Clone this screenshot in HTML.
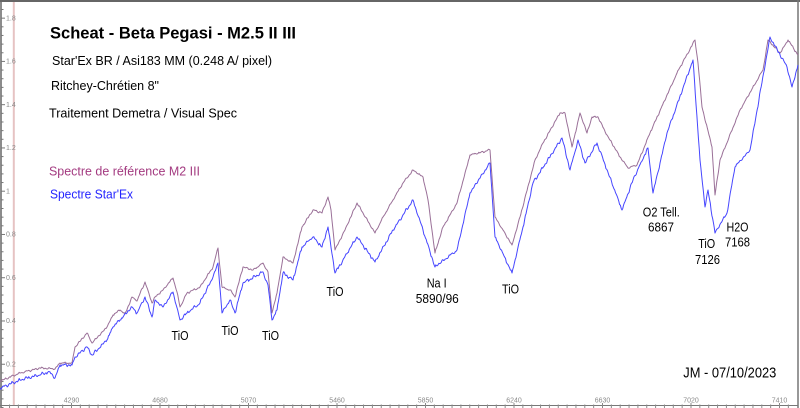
<!DOCTYPE html>
<html>
<head>
<meta charset="utf-8">
<style>
html,body{margin:0;padding:0;background:#fff;}
svg{display:block;}
text{font-family:"Liberation Sans",sans-serif;}
</style>
</head>
<body>
<svg id="c" width="800" height="408" viewBox="0 0 800 408" xmlns="http://www.w3.org/2000/svg">
<rect x="0" y="0" width="800" height="408" fill="#fff"/>
<!-- frame -->
<line x1="0" y1="1" x2="800" y2="1" stroke="#666" stroke-width="2"/>
<line x1="798" y1="0" x2="798" y2="408" stroke="#777" stroke-width="1.5"/>
<line x1="1" y1="0" x2="1" y2="408" stroke="#666" stroke-width="1.5"/>
<line x1="0" y1="405.5" x2="798" y2="405.5" stroke="#777" stroke-width="1"/>
<!-- pink marker line -->
<line x1="13.8" y1="2" x2="13.8" y2="405" stroke="#e6c3c3" stroke-width="2"/>
<g id="yticks" stroke="#777" stroke-width="1"></g>
<g id="xticks" stroke="#888" stroke-width="1"></g>
<g font-size="7" fill="#8a8a8a">
<text x="6" y="20.5">1.8</text>
<text x="6" y="63.7">1.6</text>
<text x="6" y="107">1.4</text>
<text x="6" y="150.2">1.2</text>
<text x="6" y="193.5">1</text>
<text x="6" y="236.7">0.8</text>
<text x="6" y="280">0.6</text>
<text x="6" y="323.2">0.4</text>
<text x="6" y="366.5">0.2</text>
</g>
<g font-size="7" fill="#8a8a8a" text-anchor="middle">
<text x="71.5" y="402.7">4290</text>
<text x="160" y="402.7">4680</text>
<text x="248.5" y="402.7">5070</text>
<text x="337" y="402.7">5460</text>
<text x="425.5" y="402.7">5850</text>
<text x="514" y="402.7">6240</text>
<text x="602.5" y="402.7">6630</text>
<text x="691" y="402.7">7020</text>
<text x="779.5" y="402.7">7410</text>
</g>
<polyline id="purple" fill="none" stroke="#9a7098" stroke-width="1" stroke-linejoin="round" points="0,381 20,373 40,368 55,369 60,363 72,363 75,347 87,333 92,343 107,327 113,315 120,310 125,314 132,297 137,301 145,282 152,303 155,297 163,290 173,278 177,292 180,307 187,293 200,287 213,267 218,248 222,287 230,290 235,297 243,267 253,270 263,263 268,272 272,313 277,293 283,257 293,263 302,227 313,210 322,213 328,197 331,210 335,250 345,230 357,203 363,213 375,233 383,217 393,200 403,183 413,170 423,177 428,200 435,253 443,227 457,203 470,155 490,150 495,217 512,245 520,217 535,160 543,143 560,113 565,113 572,147 580,113 587,133 592,117 598,117 607,135 620,157 628,168 637,165 650,133 677,73 695,40 698,63 702,107 712,147 715,195 720,160 740,110 763,70 768,40 780,53 788,40 798,55"/>
<polyline id="blue" fill="none" stroke="#4646ff" stroke-width="1" stroke-linejoin="round" points="0,388 20,380 50,372 55,378 60,365 72,365 75,357 87,347 92,355 107,340 113,327 120,320 132,307 137,313 145,297 152,317 155,300 163,307 173,292 180,320 187,313 200,303 213,277 218,263 222,313 230,300 235,313 243,283 263,272 268,285 272,320 277,310 283,273 293,280 302,247 313,237 322,247 328,227 335,273 357,237 375,262 393,230 413,200 423,230 435,267 457,250 470,193 490,163 495,237 512,273 523,227 533,183 562,138 570,170 578,140 585,163 597,143 622,210 633,180 648,148 653,193 667,133 693,60 700,160 705,207 708,190 715,233 727,213 735,167 750,150 770,37 787,67 792,87 798,65"/>
<!-- texts -->
<text x="50" y="38.3" font-size="17" font-weight="bold" fill="#000" textLength="246" lengthAdjust="spacingAndGlyphs">Scheat - Beta Pegasi - M2.5 II III</text>
<text x="52" y="65" font-size="12.5" fill="#000" textLength="220" lengthAdjust="spacingAndGlyphs">Star'Ex BR / Asi183 MM (0.248 A/ pixel)</text>
<text x="51" y="90" font-size="12.5" fill="#000" textLength="108" lengthAdjust="spacingAndGlyphs">Ritchey-Chrétien 8"</text>
<text x="49" y="117.3" font-size="12.5" fill="#000" textLength="188" lengthAdjust="spacingAndGlyphs">Traitement Demetra / Visual Spec</text>
<text x="49" y="175.5" font-size="12.5" fill="#a33a80" textLength="151" lengthAdjust="spacingAndGlyphs">Spectre de référence M2 III</text>
<text x="50" y="198.5" font-size="12.5" fill="#2424ff" textLength="83" lengthAdjust="spacingAndGlyphs">Spectre Star'Ex</text>
<g font-size="12.5" fill="#000" text-anchor="middle">
<text x="180" y="340" textLength="17" lengthAdjust="spacingAndGlyphs">TiO</text>
<text x="230" y="335" textLength="17" lengthAdjust="spacingAndGlyphs">TiO</text>
<text x="270.5" y="340" textLength="17" lengthAdjust="spacingAndGlyphs">TiO</text>
<text x="335" y="296" textLength="17" lengthAdjust="spacingAndGlyphs">TiO</text>
<text x="436.7" y="287.5" textLength="20" lengthAdjust="spacingAndGlyphs">Na I</text>
<text x="437.3" y="303" textLength="43" lengthAdjust="spacingAndGlyphs">5890/96</text>
<text x="510.5" y="293.5" textLength="17" lengthAdjust="spacingAndGlyphs">TiO</text>
<text x="661.3" y="216.5" textLength="37" lengthAdjust="spacingAndGlyphs">O2 Tell.</text>
<text x="661" y="231.5" textLength="26" lengthAdjust="spacingAndGlyphs">6867</text>
<text x="706.7" y="248" textLength="17" lengthAdjust="spacingAndGlyphs">TiO</text>
<text x="707.5" y="264" textLength="25" lengthAdjust="spacingAndGlyphs">7126</text>
<text x="737.5" y="231.5" textLength="22" lengthAdjust="spacingAndGlyphs">H2O</text>
<text x="737.5" y="246.5" textLength="25" lengthAdjust="spacingAndGlyphs">7168</text>
</g>
<text x="683.3" y="377.5" font-size="14.5" fill="#000" textLength="93" lengthAdjust="spacingAndGlyphs">JM - 07/10/2023</text>
</svg>
<script>
(function(){
  var NS="http://www.w3.org/2000/svg";
  // y ticks
  var yt=document.getElementById('yticks');
  for(var i=0;i<=47;i++){
    var v=i*0.04; var y=407.5-v*216.3;
    if(y<2) break;
    var major=(i%5===0)&&i>0;
    var l=document.createElementNS(NS,'line');
    l.setAttribute('x1',1);l.setAttribute('x2',major?5:3.5);
    l.setAttribute('y1',y);l.setAttribute('y2',y);
    yt.appendChild(l);
  }
  var xt=document.getElementById('xticks');
  for(var k=-8;k<=90;k++){
    var x=71.5+k*8.85;
    if(x<1||x>797) continue;
    var l2=document.createElementNS(NS,'line');
    var mj=(k%10===0);
    l2.setAttribute('x1',x);l2.setAttribute('x2',x);
    l2.setAttribute('y1',mj?403:404.5);l2.setAttribute('y2',408);
    xt.appendChild(l2);
  }
  // densify curves with small wiggles
  var seed=12345;
  function rnd(){seed=(seed*1103515245+12345)%2147483648;return seed/2147483648;}
  function densify(id,amp){
    var el=document.getElementById(id);
    var pts=el.getAttribute('points').trim().split(/\s+/).map(function(p){var a=p.split(',');return [parseFloat(a[0]),parseFloat(a[1])];});
    var out=[];
    for(var i=0;i<pts.length-1;i++){
      var a=pts[i],b=pts[i+1];
      var n=Math.max(1,Math.round((b[0]-a[0])/0.8));
      for(var j=0;j<n;j++){
        var t=j/n;
        var x=a[0]+(b[0]-a[0])*t;
        var y=a[1]+(b[1]-a[1])*t;
        var w=(j===0)?0:amp*(Math.sin(x*1.9)*0.5+Math.sin(x*0.83+1.3)*0.5+(rnd()-0.5)*0.9);
        out.push(x.toFixed(2)+','+(y+w).toFixed(2));
      }
    }
    var last=pts[pts.length-1];
    out.push(last[0]+','+last[1]);
    el.setAttribute('points',out.join(' '));
  }
  densify('purple',0.9);
  densify('blue',1.4);
})();
</script>
</body>
</html>
